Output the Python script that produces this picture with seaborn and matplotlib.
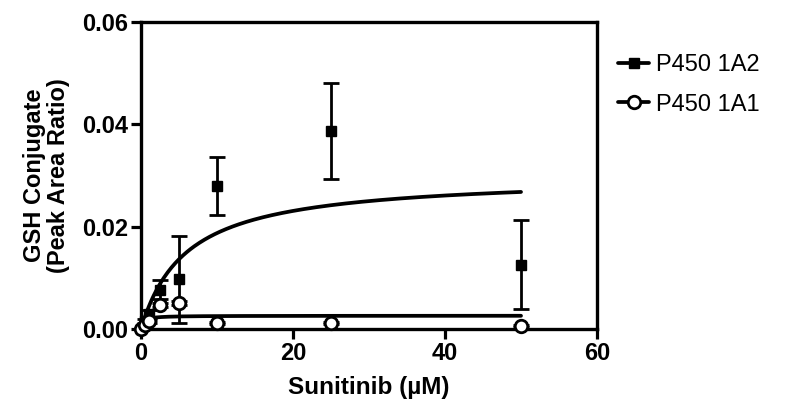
import numpy as np
import pandas as pd
import matplotlib
matplotlib.use('Agg')
import matplotlib.pyplot as plt
import seaborn as sns
from matplotlib.lines import Line2D
from matplotlib.ticker import FormatStrFormatter

# concentrations (uM)
conc = [0, 0.5, 1, 2.5, 5, 10, 25, 50]

# P450 1A2 peak area ratio, mean and error
a2_mean = [0.0, 0.0015, 0.0030, 0.0077, 0.0097, 0.0280, 0.0387, 0.0126]
a2_err = [0.0, 0.0004, 0.0008, 0.0018, 0.0085, 0.0057, 0.0094, 0.0087]

# P450 1A1
a1_mean = [0.0, 0.0008, 0.0015, 0.0047, 0.0051, 0.0011, 0.0012, 0.0006]
a1_err = [0.0, 0.0002, 0.0003, 0.0004, 0.0004, 0.0002, 0.0002, 0.0002]

# Michaelis-Menten fit parameters (Vmax, Km)
a2_fit = (0.030, 6.0)
a1_fit = (0.0026, 0.3)

sns.set_style('ticks')
plt.rcParams['font.family'] = ['Liberation Sans', 'DejaVu Sans']
plt.rcParams['text.color'] = 'black'
plt.rcParams['xtick.color'] = 'black'
plt.rcParams['ytick.color'] = 'black'
plt.rcParams['axes.labelcolor'] = 'black'

fig = plt.figure(figsize=(7.94, 4.0), dpi=100)
ax = fig.add_axes([0.1776, 0.1775, 0.5743, 0.7675])

xs = np.linspace(0, 50, 300)
curves = pd.DataFrame({
    'x': np.concatenate([xs, xs]),
    'y': np.concatenate([a2_fit[0] * xs / (a2_fit[1] + xs),
                         a1_fit[0] * xs / (a1_fit[1] + xs)]),
    'enzyme': ['P450 1A2'] * len(xs) + ['P450 1A1'] * len(xs),
})
sns.lineplot(data=curves, x='x', y='y', units='enzyme', estimator=None,
             color='black', lw=2.7, ax=ax, legend=False)

# data points with error bars
ax.errorbar(conc, a2_mean, yerr=a2_err, fmt='s', color='black', ms=7,
            elinewidth=2, capsize=5.5, capthick=2, clip_on=False, zorder=4)
ax.errorbar(conc, a1_mean, yerr=a1_err, fmt='o', color='black', mfc='white',
            mec='black', mew=2, ms=9, elinewidth=2, capsize=5.5,
            capthick=2, clip_on=False, zorder=5)

ax.set_xlim(0, 60)
ax.set_ylim(0, 0.06)
ax.set_xticks([0, 20, 40, 60])
ax.set_yticks([0, 0.02, 0.04, 0.06])
ax.yaxis.set_major_formatter(FormatStrFormatter('%.2f'))

for s in ax.spines.values():
    s.set_linewidth(2.4)
    s.set_color('black')
ax.tick_params(axis='both', length=7, width=2.3, color='black',
               labelcolor='black', labelsize=17, pad=2)
for lab in ax.get_xticklabels() + ax.get_yticklabels():
    lab.set_fontweight('bold')

ax.set_xlabel('Sunitinib (µM)', fontsize=17.5, fontweight='bold', labelpad=8)
ax.set_ylabel('GSH Conjugate\n(Peak Area Ratio)', fontsize=17,
              fontweight='bold', labelpad=9, linespacing=1.05)

handles = [
    Line2D([], [], color='black', lw=2.7, marker='s', ms=7),
    Line2D([], [], color='black', lw=2.7, marker='o', ms=9, mfc='white',
           mew=2),
]
ax.legend(handles, ['P450 1A2', 'P450 1A1'], loc='upper left',
          bbox_to_anchor=(1.0, 0.965), frameon=False, fontsize=17,
          handlelength=1.3, handletextpad=0.3, labelspacing=0.75)

fig.savefig('out.png', dpi=100)
